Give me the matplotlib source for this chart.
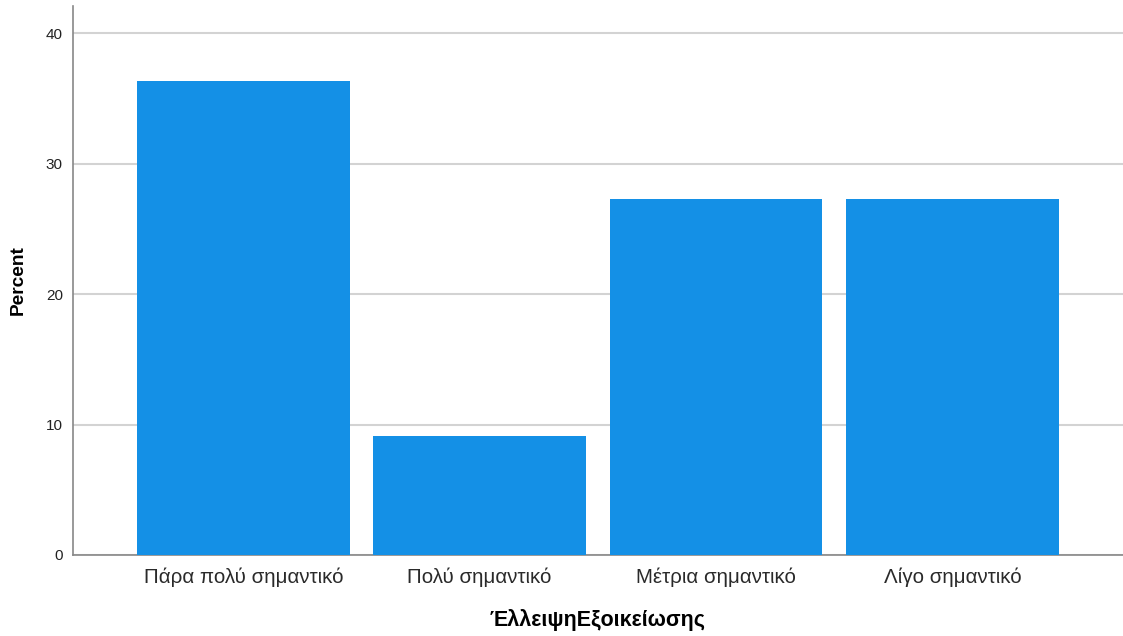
import matplotlib.pyplot as plt
import numpy as np

# data
categories = ['Πάρα πολύ σημαντικό', 'Πολύ σημαντικό', 'Μέτρια σημαντικό', 'Λίγο σημαντικό']
percent = [36.36, 9.09, 27.27, 27.27]
yticks = [0, 10, 20, 30, 40]

plt.rcParams['font.family'] = ['Liberation Sans', 'DejaVu Sans']

fig = plt.figure(figsize=(11.23, 6.36), dpi=100)
ax = fig.add_axes([0.0647, 0.1274, 0.9353, 0.8632])

x = np.arange(len(categories))
ax.bar(x, percent, width=0.9, color='#1490e6', zorder=3)

ax.set_xlim(-0.722, 3.722)
ax.set_ylim(0, 42.1)
ax.set_yticks(yticks)
ax.set_xticks(x)
ax.set_xticklabels(categories, fontsize=14.8, color='#2a2a2a')
ax.tick_params(axis='y', length=0, pad=7, labelsize=11, labelcolor='#222222')
ax.tick_params(axis='x', length=0, pad=9)

ax.grid(axis='y', color='#d3d3d3', linewidth=1.5, zorder=0)
for s in ['top', 'right']:
    ax.spines[s].set_visible(False)
for s in ['left', 'bottom']:
    ax.spines[s].set_color('#888888')
    ax.spines[s].set_linewidth(1.2)

ax.set_ylabel('Percent', fontsize=13.8, fontweight='bold', labelpad=14)
ax.set_xlabel('ΈλλειψηΕξοικείωσης', fontsize=15.5, fontweight='bold', labelpad=16)

plt.savefig('out.png', dpi=100)
